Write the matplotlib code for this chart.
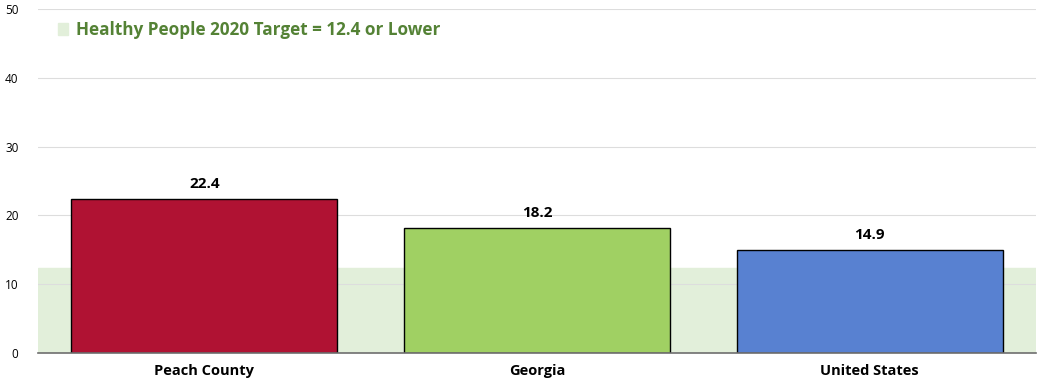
import matplotlib.pyplot as plt
from matplotlib.patches import Patch

plt.rcParams['font.family'] = ['Open Sans', 'DejaVu Sans']

regions = ['Peach County', 'Georgia', 'United States']
values = [22.4, 18.2, 14.9]
colors = ['#B01233', '#A0D063', '#5881D1']
target = 12.4
target_label = 'Healthy People 2020 Target = 12.4 or Lower'

fig = plt.figure(figsize=(10.39, 3.87), dpi=100)
ax = fig.add_axes([0.0366, 0.0879, 0.9604, 0.8888])

x = range(len(regions))
ax.axhspan(0, target, color='#E2EFDA', zorder=0)
bars = ax.bar(x, values, width=0.8, color=colors, edgecolor='black', linewidth=1, zorder=3)

for b, v in zip(bars, values):
    ax.text(b.get_x() + b.get_width() / 2, v + 1.2, f'{v:.1f}', ha='center', va='bottom',
            fontsize=11, fontweight='bold', color='black')

ax.set_xlim(-0.5, 2.5)
ax.set_ylim(0, 50)
ax.set_yticks([0, 10, 20, 30, 40, 50])
ax.set_xticks(list(x))
ax.set_xticklabels(regions, fontsize=10.5, fontweight='bold')
ax.tick_params(axis='y', labelsize=8.5, length=0, pad=14)
ax.tick_params(axis='x', length=0, pad=8)
ax.grid(axis='y', color='#DDDDDD', linewidth=0.8, zorder=1)
ax.set_axisbelow(True)
for s in ['top', 'right', 'left']:
    ax.spines[s].set_visible(False)
ax.spines['bottom'].set_color('#6E6E6E')
ax.spines['bottom'].set_linewidth(1.2)
ax.spines['bottom'].set_zorder(4)

leg = ax.legend(handles=[Patch(color='#E2EFDA', label=target_label)], loc='upper left',
                bbox_to_anchor=(0.020, 0.965), frameon=False, borderaxespad=0, borderpad=0,
                handlelength=0.6, handleheight=0.7, handletextpad=0.45,
                prop={'weight': 'bold', 'size': 12.3})
for t in leg.get_texts():
    t.set_color('#548235')

fig.savefig('out.png', dpi=100)
